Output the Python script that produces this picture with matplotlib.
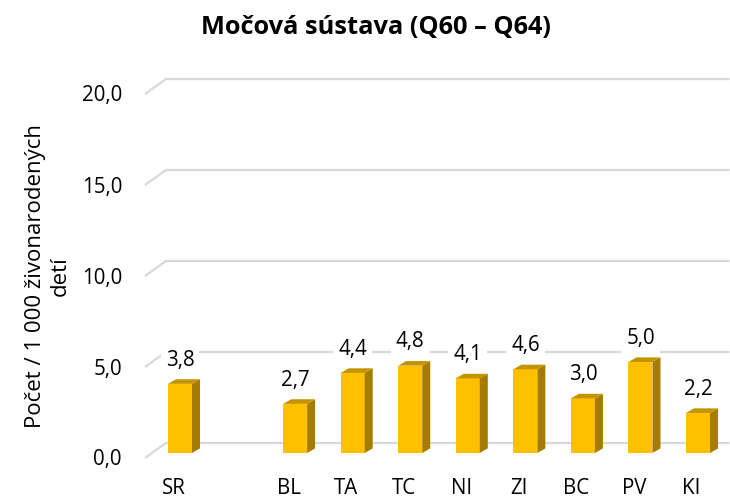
import matplotlib
matplotlib.use("Agg")
import matplotlib.pyplot as plt
from matplotlib.patches import Polygon

categories = ["SR", "", "BL", "TA", "TC", "NI", "ZI", "BC", "PV", "KI"]
values = [3.8, None, 2.7, 4.4, 4.8, 4.1, 4.6, 3.0, 5.0, 2.2]
value_labels = ["3,8", "", "2,7", "4,4", "4,8", "4,1", "4,6", "3,0", "5,0", "2,2"]
yticks = [0, 5, 10, 15, 20]
ytick_labels = ["0,0", "5,0", "10,0", "15,0", "20,0"]
title = "Močová sústava (Q60 – Q64)"
ylabel = "Počet / 1 000 živonarodených\ndetí"

plt.rcParams['font.family'] = ['Open Sans', 'DejaVu Sans']

W, H = 730, 497
fig = plt.figure(figsize=(W / 100, H / 100), dpi=100)

# pixel geometry
px_x0, sx = 180.0, 57.56      # x px of category 0, px per category
px_y0, sy = 453.0, 18.2       # y px (from top) of value 0, px per unit
xlim = (-0.7, 9.55)
ylim = (-0.5, 21.0)
left = (px_x0 + xlim[0] * sx) / W
width = (xlim[1] - xlim[0]) * sx / W
bottom = (H - (px_y0 - ylim[0] * sy)) / H
height = (ylim[1] - ylim[0]) * sy / H
ax = fig.add_axes([left, bottom, width, height])
ax.set_xlim(*xlim)
ax.set_ylim(*ylim)
ax.axis("off")

grid_c = "#D9D9D9"
front_x = (145 - px_x0) / sx
back_x = (166 - px_x0) / sx
front_dy = -5 / sy
back_dy = 10 / sy
for v, lab in zip(yticks, ytick_labels):
    ax.plot([front_x, back_x, xlim[1]], [v + front_dy, v + back_dy, v + back_dy],
            color=grid_c, lw=1.6, solid_capstyle="butt", zorder=1, clip_on=False)
    ax.text((122 - px_x0) / sx, v + front_dy - 2 / sy, lab, ha="right", va="center",
            fontsize=14.8, color="#000000", clip_on=False)

bw = 24 / sx
dx = 8 / sx
dy = 4.6 / sy
front_c = "#FFC000"
side_c = "#A67C00"
top_c = "#C49300"
for i, (v, vl) in enumerate(zip(values, value_labels)):
    if v is None:
        continue
    ax.bar(i, v, width=bw, color=front_c, edgecolor="none", zorder=3)
    xr = i + bw / 2
    xl = i - bw / 2
    ax.add_patch(Polygon([(xr, 0), (xr + dx, dy), (xr + dx, v + dy), (xr, v)],
                         closed=True, facecolor=side_c, edgecolor="none", zorder=3))
    ax.add_patch(Polygon([(xl, v), (xl + dx, v + dy), (xr + dx, v + dy), (xr, v)],
                         closed=True, facecolor=top_c, edgecolor="none", zorder=3))
    ax.annotate(vl, (i, v + dy), xytext=(0, 9.8), textcoords="offset points",
                ha="center", va="baseline", fontsize=14.8, zorder=4,
                bbox=dict(boxstyle="square,pad=0.25", facecolor="white", edgecolor="none"))

for i, c in enumerate(categories):
    if c:
        ax.text(i - 6.5 / sx, (px_y0 - 488) / sy, c, ha="center", va="center",
                fontsize=14.8, clip_on=False)

fig.text(376 / W, 1 - 28 / H, title, ha="center", va="center",
         fontsize=18.3, fontweight="bold")
fig.text(48 / W, 1 - 276 / H, ylabel, ha="center", va="center", rotation=90,
         fontsize=16, linespacing=1.2, multialignment="center")

fig.savefig("out.png", dpi=100)
